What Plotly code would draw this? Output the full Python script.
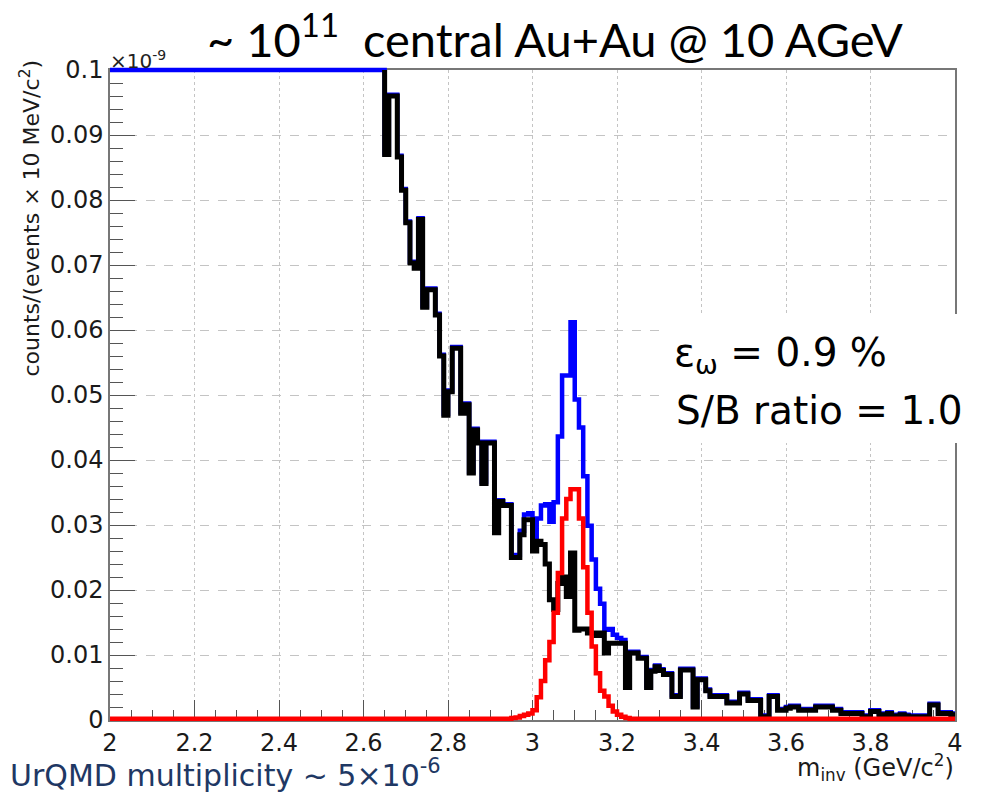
import plotly.graph_objects as go

# ---------------- data ----------------
BIN_WIDTH = 0.01          # GeV/c^2
X_MIN, X_MAX = 2.0, 4.0
Y_MAX = 0.1               # x 1e-9

# background (black) histogram, bins from 2.65 to 3.99 (bins below 2.65 are off-scale)
black_start = 2.65
black_counts = [
    0.087, 0.096, 0.096, 0.0866, 0.0815, 0.0765, 0.0703, 0.0695, 0.077, 0.0635,   # 2.65-2.74
    0.0662, 0.0662, 0.0623, 0.056, 0.0469, 0.0505, 0.0572, 0.0572, 0.0472, 0.0485, # 2.75-2.84
    0.038, 0.0446, 0.0426, 0.0364, 0.0426, 0.0426, 0.0288, 0.0336, 0.033, 0.033,   # 2.85-2.94
    0.025, 0.025, 0.0285, 0.0308, 0.0308, 0.026, 0.0275, 0.027, 0.024, 0.0185,     # 2.95-3.04
    0.017, 0.021, 0.022, 0.019, 0.0257, 0.0138, 0.014, 0.014, 0.0134, 0.0134,      # 3.05-3.14
    0.013, 0.0134, 0.0103, 0.0118, 0.0118, 0.0118, 0.0118, 0.005, 0.0103, 0.0103,  # 3.15-3.24
    0.0095, 0.0095, 0.005, 0.0075, 0.0082, 0.0076, 0.007, 0.007, 0.0036, 0.0036,   # 3.25-3.34
    0.0077, 0.0077, 0.0077, 0.002, 0.0062, 0.0062, 0.0045, 0.0036, 0.0036, 0.0036, # 3.35-3.44
    0.0036, 0.0026, 0.0026, 0.0026, 0.004, 0.004, 0.003, 0.003, 0.003, 0.0005,     # 3.45-3.54
    0.0005, 0.0036, 0.0036, 0.0015, 0.0015, 0.0018, 0.002, 0.002, 0.0015, 0.0015,  # 3.55-3.64
    0.0015, 0.0015, 0.002, 0.002, 0.002, 0.002, 0.0015, 0.0015, 0.001, 0.001,      # 3.65-3.74
    0.001, 0.001, 0.001, 0.0005, 0.0005, 0.0013, 0.0013, 0.0008, 0.0008, 0.001,    # 3.75-3.84
    0.0006, 0.0006, 0.0008, 0.0006, 0.0005, 0.0005, 0.0005, 0.0005, 0.0005, 0.0023,# 3.85-3.94
    0.0023, 0.001, 0.001, 0.001, 0.0008,                                            # 3.95-3.99
]

# signal (red) histogram: peak bins from 2.95 to 3.22, flat ~0 elsewhere
red_start = 2.95
red_counts = [
    0.0003, 0.0004, 0.0006, 0.0008, 0.001, 0.0015, 0.0035, 0.006, 0.0092, 0.012,   # 2.95-3.04
    0.0165, 0.0226, 0.031, 0.034, 0.0355, 0.0355, 0.031, 0.0235, 0.0165, 0.0113,   # 3.05-3.14
    0.0072, 0.0045, 0.0036, 0.0022, 0.0013, 0.0008, 0.0005, 0.0003,                # 3.15-3.22
]
red_floor = 0.0002

x_tick_vals = [2.0, 2.2, 2.4, 2.6, 2.8, 3.0, 3.2, 3.4, 3.6, 3.8, 4.0]
x_tick_text = ["2", "2.2", "2.4", "2.6", "2.8", "3", "3.2", "3.4", "3.6", "3.8", "4"]
y_tick_vals = [0.0, 0.01, 0.02, 0.03, 0.04, 0.05, 0.06, 0.07, 0.08, 0.09, 0.1]
y_tick_text = ["0", "0.01", "0.02", "0.03", "0.04", "0.05", "0.06", "0.07", "0.08", "0.09", "0.1"]

# ---------------- histogram assembly ----------------
n_bins = int(round((X_MAX - X_MIN) / BIN_WIDTH))
edges = [round(X_MIN + i * BIN_WIDTH, 4) for i in range(n_bins + 1)]

i_black = int(round((black_start - X_MIN) / BIN_WIDTH))
assert i_black + len(black_counts) == n_bins
black_full = [None] * i_black + black_counts          # None -> above the displayed range

i_red = int(round((red_start - X_MIN) / BIN_WIDTH))
red_full = [red_floor] * n_bins
for k, v in enumerate(red_counts):
    red_full[i_red + k] = v

blue_full = [float("inf") if b is None else b + r for b, r in zip(black_full, red_full)]


def clip(v):
    return min(v, Y_MAX)


def step_xy(lo, vals):
    xs = edges[lo:n_bins] + [edges[n_bins]]
    ys = [clip(v) for v in vals] + [clip(vals[-1])]
    return xs, ys


bx, by = step_xy(0, blue_full)
kx, ky = step_xy(i_black, black_counts)
kx = [edges[i_black]] + kx      # vertical coming down from the clipped previous bin
ky = [Y_MAX] + ky
rx, ry = step_xy(0, red_full)

# ---------------- geometry ----------------
W, H = 990, 795
L, R = 110, 35
TOP_PX, BOT_PX = 70, 720        # frame
PAD = 6                         # extra room so thick lines at frame edges aren't clipped
T_M = TOP_PX - PAD
B_M = H - (BOT_PX + PAD)
PH = H - T_M - B_M
dy = Y_MAX / (BOT_PX - TOP_PX) * PAD


def px(x):
    return (x - L) / (W - L - R)


def py(y):
    return (H - B_M - y) / PH


fig = go.Figure()
# invisible anchor trace so the visible frame/axes subplot is rendered
fig.add_trace(go.Scatter(x=[X_MIN], y=[0], mode="markers", marker=dict(opacity=0),
                         xaxis="x", yaxis="y", hoverinfo="skip", showlegend=False))
common = dict(mode="lines", line_shape="hv", xaxis="x2", yaxis="y2", hoverinfo="skip", showlegend=False)
fig.add_trace(go.Scatter(x=bx, y=by, line=dict(color="#0000ff", width=4.5), **common))
fig.add_trace(go.Scatter(x=kx, y=ky, line=dict(color="#000000", width=5), **common))
fig.add_trace(go.Scatter(x=rx, y=ry, line=dict(color="#ff0000", width=4.5), **common))

tickfont = dict(family="DejaVu Sans", size=24, color="#1a1a1a")
fig.update_layout(
    width=W, height=H,
    margin=dict(l=L, r=R, t=T_M, b=B_M),
    paper_bgcolor="white", plot_bgcolor="rgba(0,0,0,0)",
    xaxis=dict(range=[X_MIN, X_MAX], domain=[0, 1], tickvals=x_tick_vals, ticktext=x_tick_text,
               ticks="inside", ticklen=20, tickwidth=1, tickcolor="#555",
               minor=dict(ticks="inside", ticklen=10, dtick=0.05, tick0=2.0, tickcolor="#555", showgrid=False),
               showgrid=True, gridcolor="#c4c4c4", griddash="dot", gridwidth=1,
               showline=True, linecolor="#777", linewidth=1.5, mirror=True, zeroline=False,
               tickfont=tickfont, anchor="y"),
    yaxis=dict(range=[0, Y_MAX], domain=[py(BOT_PX), py(TOP_PX)], tickvals=y_tick_vals, ticktext=y_tick_text,
               ticks="inside", ticklen=25, tickwidth=1, tickcolor="#555",
               minor=dict(ticks="inside", ticklen=13, dtick=0.002, tick0=0, tickcolor="#555", showgrid=False),
               showgrid=True, gridcolor="#c4c4c4", griddash="dash", gridwidth=1,
               showline=True, linecolor="#777", linewidth=1.5, mirror=True, zeroline=False,
               tickfont=tickfont, anchor="x"),
    xaxis2=dict(range=[X_MIN, X_MAX], domain=[0, 1], visible=False, anchor="y2"),
    yaxis2=dict(range=[-dy, Y_MAX + dy], domain=[0, 1], visible=False, anchor="x2"),
)

# white box behind the efficiency text
fig.add_shape(type="rect", xref="paper", yref="paper", x0=px(660), x1=px(992), y0=py(443), y1=py(314),
              fillcolor="white", line=dict(width=0), layer="above")

ann = []
ann.append(dict(text="~ 10<sup>11</sup>\u00a0\u00a0central Au+Au @ 10 AGeV", x=px(555), y=py(36),
                xanchor="center", yanchor="middle", font=dict(family="Lato", size=47, color="#000")))
ann.append(dict(text="\u00d710<sup>-9</sup>", x=px(108), y=py(60), xanchor="left", yanchor="middle",
                font=dict(family="DejaVu Sans", size=20, color="#222")))
ann.append(dict(text="counts/(events \u00d7 10 MeV/c<sup>2</sup>)", x=px(30), y=py(58), textangle=-90,
                xanchor="center", yanchor="top", font=dict(family="DejaVu Sans", size=22, color="#1a1a1a")))
ann.append(dict(text="m<sub>inv</sub> (GeV/c<sup>2</sup>)", x=px(956), y=py(767), xanchor="right",
                yanchor="middle", font=dict(family="DejaVu Sans", size=24, color="#1a1a1a")))
ann.append(dict(text="UrQMD multiplicity ~ 5\u00d710<sup>-6</sup>", x=px(8), y=py(773), xanchor="left",
                yanchor="middle", font=dict(family="DejaVu Sans", size=30, color="#1f3864")))
ann.append(dict(text="\u03b5<sub>\u03c9</sub> = 0.9 %", x=px(672), y=py(355), xanchor="left",
                yanchor="middle", font=dict(family="DejaVu Sans", size=39, color="#000")))
ann.append(dict(text="S/B ratio = 1.0", x=px(674), y=py(410), xanchor="left",
                yanchor="middle", font=dict(family="DejaVu Sans", size=39, color="#000")))
for a in ann:
    a.update(xref="paper", yref="paper", showarrow=False)
fig.update_layout(annotations=ann)

fig.write_html("out.html")
